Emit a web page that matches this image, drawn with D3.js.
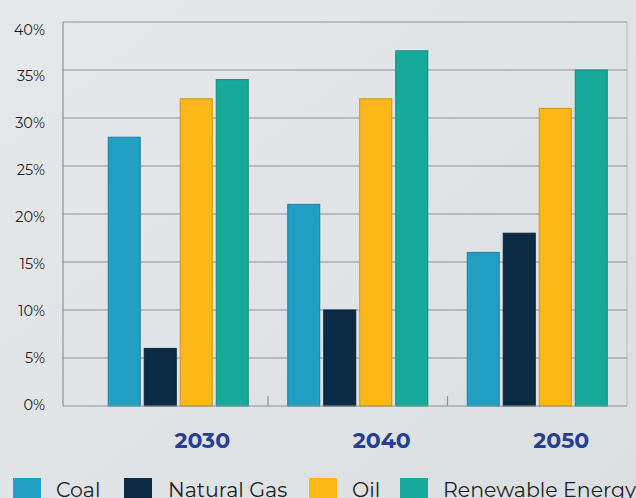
<!DOCTYPE html>
<html>
<head>
<meta charset="utf-8">
<script src="https://cdn.jsdelivr.net/npm/d3@7"></script>
<style>
  html, body { margin: 0; padding: 0; }
  body { width: 636px; height: 498px; overflow: hidden; background: #e3e6e9; }
  svg { display: block; }
</style>
</head>
<body>
<svg id="chart" width="636" height="498"></svg>
<script>
// Share of energy mix by decade
const years = ["2030", "2040", "2050"];
const sources = ["Coal", "Natural Gas", "Oil", "Renewable Energy"];
const coal = [28, 21, 16];
const naturalGas = [6, 10, 18];
const oil = [32, 32, 31];
const renewable = [34, 37, 35];
const yTicks = [0, 5, 10, 15, 20, 25, 30, 35, 40];
const colors = ["#21a0c4", "#0b2a44", "#fdb719", "#17aa9b"];

const seriesValues = [coal, naturalGas, oil, renewable];

const svg = d3.select("#chart");
const font = "Montserrat, 'DejaVu Sans', sans-serif";

// soft background wash
const defs = svg.append("defs");
const bg = defs.append("linearGradient").attr("id", "bg")
  .attr("x1", 0).attr("y1", 0).attr("x2", 1).attr("y2", 1);
bg.append("stop").attr("offset", "0%").attr("stop-color", "#e6e9ec");
bg.append("stop").attr("offset", "100%").attr("stop-color", "#dcdfe2");
svg.append("rect").attr("width", 636).attr("height", 498).attr("fill", "url(#bg)");

const plotLeft = 63, plotRight = 627, plotTop = 22, plotBottom = 406;

const y = d3.scaleLinear().domain([0, 40]).range([plotBottom, plotTop]);
// tick labels sit on a slightly tighter scale than the gridlines
const yLabel = d3.scaleLinear().domain([0, 40]).range([404, 29]);
const x0 = d3.scaleBand().domain(years).range([88.5, plotRight]).paddingInner(0).paddingOuter(0);
const groupWidth = 140;
const x1 = d3.scaleBand().domain(sources).range([0, groupWidth]).paddingInner(0.111);
const groupOffset = (x0.bandwidth() - groupWidth) / 2;

// gridlines
svg.append("g")
  .selectAll("line").data(yTicks.filter(t => t > 0)).join("line")
  .attr("x1", plotLeft).attr("x2", plotRight)
  .attr("y1", d => y(d)).attr("y2", d => y(d))
  .attr("stroke", "#8d9196").attr("stroke-width", 1.2);

// frame sides
svg.append("line").attr("x1", plotLeft).attr("x2", plotLeft)
  .attr("y1", plotTop).attr("y2", plotBottom).attr("stroke", "#8d9196").attr("stroke-width", 1.2);
svg.append("line").attr("x1", plotRight).attr("x2", plotRight)
  .attr("y1", plotTop).attr("y2", plotBottom).attr("stroke", "#b4b8bc").attr("stroke-width", 1);

// y axis labels
const yAxis = d3.axisLeft(yLabel).tickValues(yTicks).tickSize(0).tickPadding(0)
  .tickFormat(d => d + "%");
const yg = svg.append("g").attr("transform", `translate(45,0)`).call(yAxis);
yg.select(".domain").remove();
yg.selectAll("text").attr("font-family", font).attr("font-size", 14.5)
  .attr("fill", "#222").attr("dy", "0.35em");

// bars
const groups = svg.append("g").selectAll("g").data(years).join("g")
  .attr("transform", d => `translate(${x0(d) + groupOffset},0)`);
groups.selectAll("rect")
  .data((d, i) => sources.map((s, j) => ({ source: s, value: seriesValues[j][i], idx: j })))
  .join("rect")
  .attr("x", d => x1(d.source))
  .attr("width", x1.bandwidth())
  .attr("y", d => y(d.value))
  .attr("height", d => y(0) - y(d.value))
  .attr("fill", d => colors[d.idx])
  .attr("stroke", d => d3.color(colors[d.idx]).darker(0.6))
  .attr("stroke-width", 1);

// baseline and inner category ticks
svg.append("line").attr("x1", plotLeft).attr("x2", plotRight)
  .attr("y1", plotBottom).attr("y2", plotBottom).attr("stroke", "#8d9196").attr("stroke-width", 1.2);
svg.append("g").selectAll("line").data(years.slice(1)).join("line")
  .attr("x1", d => x0(d)).attr("x2", d => x0(d))
  .attr("y1", plotBottom - 10).attr("y2", plotBottom)
  .attr("stroke", "#8d9196").attr("stroke-width", 1.2);

// category labels
svg.append("g").selectAll("text").data(years).join("text")
  .attr("x", d => x0(d) + x0.bandwidth() / 2 + 24)
  .attr("y", 448)
  .attr("text-anchor", "middle")
  .attr("font-family", font).attr("font-size", 22).attr("font-weight", 700)
  .attr("fill", "#283f91")
  .text(d => d);

// legend
const legendX = [13, 124, 309, 400];
const legend = svg.append("g").selectAll("g").data(sources).join("g")
  .attr("transform", (d, i) => `translate(${legendX[i]},478)`);
legend.append("rect").attr("width", 28).attr("height", 24)
  .attr("fill", (d, i) => colors[i]);
legend.append("text").attr("x", (d, i) => [43, 44, 43, 43][i]).attr("y", 18.5)
  .attr("font-family", font).attr("font-size", 20.5).attr("fill", "#1f1f1f")
  .text(d => d);
</script>
</body>
</html>
